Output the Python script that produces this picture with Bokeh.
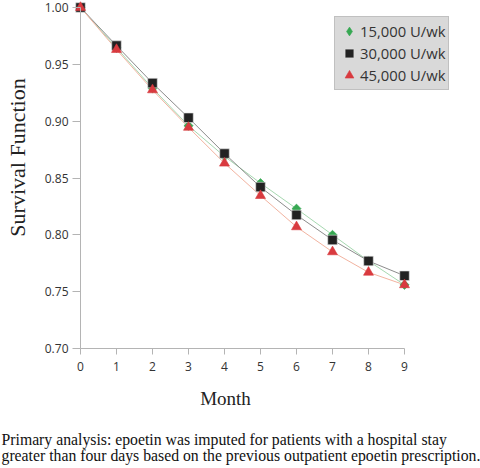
from bokeh.plotting import figure
from bokeh.models import Range1d, Legend, LegendItem, Label, FixedTicker, NumeralTickFormatter
from bokeh.embed import file_html
from bokeh.resources import INLINE

months = [0, 1, 2, 3, 4, 5, 6, 7, 8, 9]
s15 = [1.000, 0.9645, 0.929, 0.896, 0.869, 0.8455, 0.823, 0.800, 0.777, 0.756]
s30 = [1.000, 0.9665, 0.9335, 0.903, 0.8715, 0.842, 0.8175, 0.7955, 0.777, 0.764]
s45 = [1.000, 0.963, 0.9275, 0.8945, 0.863, 0.8345, 0.807, 0.785, 0.767, 0.756]
series_names = ["15,000 U/wk", "30,000 U/wk", "45,000 U/wk"]
x_ticks = [0, 1, 2, 3, 4, 5, 6, 7, 8, 9]
y_ticks = [0.70, 0.75, 0.80, 0.85, 0.90, 0.95, 1.00]
x_title = "Month"
y_title = "Survival Function"
caption = ["Primary analysis: epoetin was imputed for patients with a hospital stay",
           "greater than four days based on the previous outpatient epoetin prescription."]

W, H = 480, 468
# frame covers the whole canvas; axes are drawn at fixed data locations
px_x = 36.0          # pixels per month
px_y = 341.0 / 0.30  # pixels per survival unit
x0_px, y0_px, ytop_px = 80.0, 348.0, 7.0
x_start = x_ticks[0] - x0_px / px_x
x_end = x_ticks[0] + (W - x0_px) / px_x
y_end = y_ticks[-1] + ytop_px / px_y
y_start = y_ticks[0] - (H - y0_px) / px_y

p = figure(width=W, height=H, output_backend="svg", toolbar_location=None,
           x_range=Range1d(x_start, x_end), y_range=Range1d(y_start, y_end),
           min_border=0)
p.outline_line_color = None
p.grid.visible = False
p.background_fill_color = "white"
p.border_fill_color = "white"

xa, ya = p.xaxis[0], p.yaxis[0]
xa.fixed_location = y_ticks[0]
ya.fixed_location = x_ticks[0]
xa.bounds = (x_ticks[0], x_ticks[-1])
ya.bounds = (y_ticks[0], y_ticks[-1])
for ax in (xa, ya):
    ax.axis_line_color = "#b4b4b4"
    ax.major_tick_line_color = "#b4b4b4"
    ax.minor_tick_line_color = None
    ax.major_tick_in = 0
    ax.major_label_text_font = "Open Sans"
    ax.major_label_text_font_size = "12px"
    ax.major_label_text_color = "#333333"
xa.ticker = FixedTicker(ticks=x_ticks)
ya.ticker = FixedTicker(ticks=y_ticks)
ya.formatter = NumeralTickFormatter(format="0.00")
xa.major_tick_out = 6
ya.major_tick_out = 8
xa.major_label_standoff = 7
ya.major_label_standoff = 4

styles = [
    ("#a6d8b0", "#36a852", "square", 6.5, 45, "diamond"),
    ("#8c8c8c", "#222222", "square", 9.5, 0, "square"),
    ("#f2b3a0", "#d93a3f", "triangle", 10, 0, "triangle"),
]
series = [s15, s30, s45]
for vals, (lc, mc, mk, sz, ang, lmk) in zip(series, styles):
    p.line(months, vals, line_color=lc, line_width=1)
items = []
for vals, (lc, mc, mk, sz, ang, lmk), name in zip(series, styles, series_names):
    edge = "#e0e0e0" if mc == "#222222" else mc
    r = p.scatter(months, vals, marker=mk, size=sz, angle=ang, angle_units="deg",
                  fill_color=mc, line_color=edge, line_width=0.6)
    if ang:
        # legend glyphs are drawn unrotated: use a zero-size proxy with the diamond shape
        r = p.scatter(months, vals, marker=lmk, size=0, fill_color=mc, line_color=edge,
                      line_width=0.6)
    items.append(LegendItem(label=name, renderers=[r]))

legend = Legend(items=items, location=(334, H - 90), background_fill_color="#d9d9d9",
                background_fill_alpha=1, border_line_color="#a8a8a8", border_line_width=1,
                label_text_font="Open Sans", label_text_font_size="14.8px",
                label_text_color="#333333", padding=3, spacing=0, margin=0,
                label_height=22, glyph_height=22, glyph_width=22, label_standoff=0)
p.add_layout(legend)

p.add_layout(Label(x=225, y=H - 398, x_units="screen", y_units="screen", text=x_title,
                   text_font="Liberation Serif", text_font_size="19px", text_color="#222222",
                   text_align="center", text_baseline="middle"))
p.add_layout(Label(x=17, y=H - 157, x_units="screen", y_units="screen", text=y_title,
                   text_font="Liberation Serif", text_font_size="22px", text_color="#222222",
                   text_align="center", text_baseline="middle", angle=90, angle_units="deg"))
for i, line in enumerate(caption):
    p.add_layout(Label(x=1, y=H - 439 - i * 15.5, x_units="screen", y_units="screen", text=line,
                       text_font="Liberation Serif", text_font_size="15.75px", text_color="#111111",
                       text_align="left", text_baseline="middle"))

open("out.html", "w").write(file_html(p, INLINE))
